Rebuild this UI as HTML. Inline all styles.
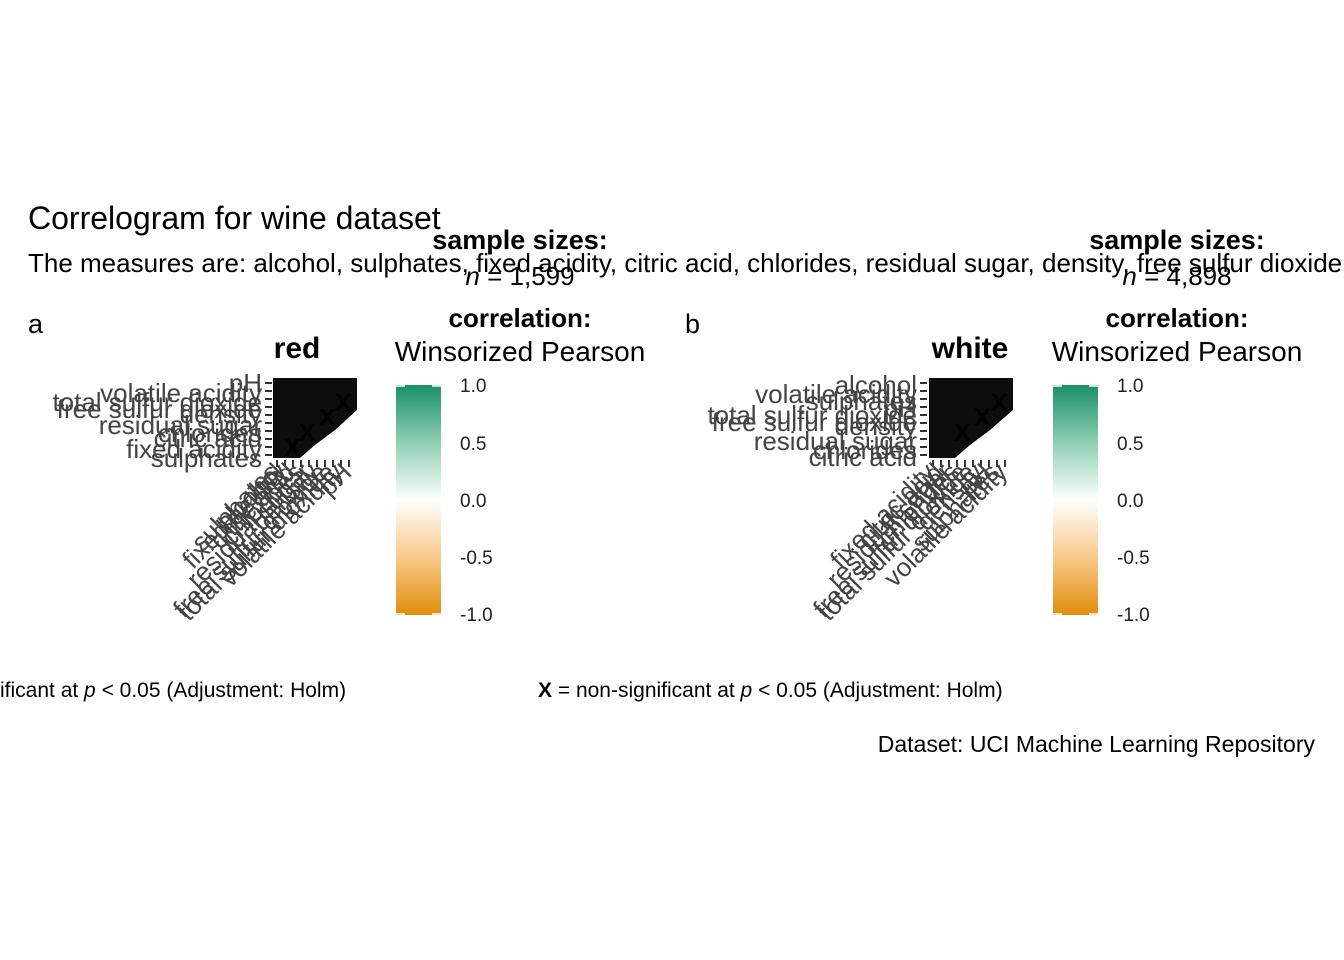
<!DOCTYPE html>
<html><head><meta charset="utf-8"><style>
html,body{margin:0;padding:0;background:#fff;}
svg{display:block;font-family:"Liberation Sans",Arial,sans-serif;}
.yl{font-size:26px;fill:#444;text-anchor:end;}
.xl{font-size:26px;fill:#444;text-anchor:end;}
.lg{font-size:19px;fill:#222;}
</style></head><body>
<svg width="1344" height="960" viewBox="0 0 1344 960">
<defs>
<linearGradient id="cb" x1="0" y1="0" x2="0" y2="1">
<stop offset="0" stop-color="#1b8f68"/>
<stop offset="0.25" stop-color="#8ecfb2"/>
<stop offset="0.5" stop-color="#ffffff"/>
<stop offset="0.75" stop-color="#f8c98a"/>
<stop offset="1" stop-color="#e08e0b"/>
</linearGradient>
</defs>
<text x="28" y="229" font-size="32" fill="#000">Correlogram for wine dataset</text>
<text x="28" y="272" font-size="26" fill="#000">The measures are: alcohol, sulphates, fixed acidity, citric acid, chlorides, residual sugar, density, free sulfur dioxide</text>

<g>
<text x="28" y="333" font-size="27">a</text>
<text x="297" y="358" font-size="30" font-weight="bold" text-anchor="middle">red</text>
<text class="yl" x="262" y="392">pH</text>
<text class="yl" x="262" y="402">volatile acidity</text>
<text class="yl" x="262" y="411">total sulfur dioxide</text>
<text class="yl" x="262" y="418">free sulfur dioxide</text>
<text class="yl" x="262" y="423">density</text>
<text class="yl" x="262" y="434">residual sugar</text>
<text class="yl" x="262" y="442">chlorides</text>
<text class="yl" x="262" y="447">citric acid</text>
<text class="yl" x="262" y="458">fixed acidity</text>
<text class="yl" x="262" y="467">sulphates</text>
<g stroke="#333" stroke-width="2">
<line x1="265" y1="383" x2="272" y2="383"/><line x1="265" y1="391" x2="272" y2="391"/><line x1="265" y1="399" x2="272" y2="399"/><line x1="265" y1="407" x2="272" y2="407"/><line x1="265" y1="415" x2="272" y2="415"/><line x1="265" y1="423" x2="272" y2="423"/><line x1="265" y1="431" x2="272" y2="431"/><line x1="265" y1="439" x2="272" y2="439"/><line x1="265" y1="447" x2="272" y2="447"/><line x1="265" y1="455" x2="272" y2="455"/>
<line x1="277" y1="460" x2="277" y2="467"/><line x1="285" y1="460" x2="285" y2="467"/><line x1="293" y1="460" x2="293" y2="467"/><line x1="301" y1="460" x2="301" y2="467"/><line x1="309" y1="460" x2="309" y2="467"/><line x1="317" y1="460" x2="317" y2="467"/><line x1="325" y1="460" x2="325" y2="467"/><line x1="333" y1="460" x2="333" y2="467"/><line x1="341" y1="460" x2="341" y2="467"/><line x1="349" y1="460" x2="349" y2="467"/>
</g>
<polygon points="273,378 357,378 357,410 335,430 315,445 300,458 273,458" fill="#0d0d0d"/>
<g font-size="22" fill="none" stroke="#000" stroke-width="1.5"><text x="300" y="440">X</text><text x="320" y="425">X</text><text x="336" y="410">X</text><text x="285" y="455">X</text></g>
<g class="xl">
<text transform="translate(281,474) rotate(-45)">sulphates</text>
<text transform="translate(289,474) rotate(-45)">fixed acidity</text>
<text transform="translate(297,474) rotate(-45)">citric acid</text>
<text transform="translate(305,474) rotate(-45)">chlorides</text>
<text transform="translate(313,474) rotate(-45)">residual sugar</text>
<text transform="translate(321,474) rotate(-45)">density</text>
<text transform="translate(329,474) rotate(-45)">free sulfur dioxide</text>
<text transform="translate(337,474) rotate(-45)">total sulfur dioxide</text>
<text transform="translate(345,474) rotate(-45)">volatile acidity</text>
<text transform="translate(353,474) rotate(-45)">pH</text>
<text transform="translate(285,474) rotate(-45)">alcohol</text>
</g>
<text x="520" y="249" font-size="27" font-weight="bold" text-anchor="middle">sample sizes:</text>
<text x="520" y="285" font-size="26" text-anchor="middle"><tspan font-style="italic">n</tspan> = 1,599</text>
<text x="520" y="327" font-size="26" font-weight="bold" text-anchor="middle">correlation:</text>
<text x="520" y="361" font-size="28" text-anchor="middle">Winsorized Pearson</text>
<rect x="396" y="385" width="45" height="230" fill="url(#cb)"/>
<g stroke="#fff" stroke-width="1.5"><line x1="396" y1="386" x2="405" y2="386"/><line x1="432" y1="386" x2="441" y2="386"/><line x1="396" y1="614" x2="405" y2="614"/><line x1="432" y1="614" x2="441" y2="614"/></g>
<text class="lg" x="460" y="392">1.0</text>
<text class="lg" x="460" y="450">0.5</text>
<text class="lg" x="460" y="507">0.0</text>
<text class="lg" x="460" y="564">-0.5</text>
<text class="lg" x="460" y="621">-1.0</text>
<text x="0" y="697" font-size="21">ificant at <tspan font-style="italic">p</tspan> &lt; 0.05 (Adjustment: Holm)</text>
</g>

<g transform="translate(657,0)">
<text x="28" y="333" font-size="27">b</text>
<text x="313" y="358" font-size="30" font-weight="bold" text-anchor="middle">white</text>
</g>
<g>
<text class="yl" x="917" y="394">alcohol</text>
<text class="yl" x="917" y="403">volatile acidity</text>
<text class="yl" x="917" y="410">sulphates</text>
<text class="yl" x="917" y="417">pH</text>
<text class="yl" x="917" y="424">total sulfur dioxide</text>
<text class="yl" x="917" y="431">free sulfur dioxide</text>
<text class="yl" x="917" y="435">density</text>
<text class="yl" x="917" y="450">residual sugar</text>
<text class="yl" x="917" y="459">chlorides</text>
<text class="yl" x="917" y="466">citric acid</text>
<g stroke="#333" stroke-width="2">
<line x1="920" y1="383" x2="927" y2="383"/><line x1="920" y1="391" x2="927" y2="391"/><line x1="920" y1="399" x2="927" y2="399"/><line x1="920" y1="407" x2="927" y2="407"/><line x1="920" y1="415" x2="927" y2="415"/><line x1="920" y1="423" x2="927" y2="423"/><line x1="920" y1="431" x2="927" y2="431"/><line x1="920" y1="439" x2="927" y2="439"/><line x1="920" y1="447" x2="927" y2="447"/><line x1="920" y1="455" x2="927" y2="455"/>
<line x1="933" y1="460" x2="933" y2="467"/><line x1="941" y1="460" x2="941" y2="467"/><line x1="949" y1="460" x2="949" y2="467"/><line x1="957" y1="460" x2="957" y2="467"/><line x1="965" y1="460" x2="965" y2="467"/><line x1="973" y1="460" x2="973" y2="467"/><line x1="981" y1="460" x2="981" y2="467"/><line x1="989" y1="460" x2="989" y2="467"/><line x1="997" y1="460" x2="997" y2="467"/><line x1="1005" y1="460" x2="1005" y2="467"/>
</g>
<polygon points="929,378 1013,378 1013,410 990,430 970,445 955,458 929,458" fill="#0d0d0d"/>
<g font-size="22" fill="none" stroke="#000" stroke-width="1.5"><text x="955" y="440">X</text><text x="975" y="425">X</text><text x="992" y="410">X</text></g>
<g class="xl">
<text transform="translate(937,474) rotate(-45)">fixed acidity</text>
<text transform="translate(945,474) rotate(-45)">citric acid</text>
<text transform="translate(953,474) rotate(-45)">residual sugar</text>
<text transform="translate(961,474) rotate(-45)">chlorides</text>
<text transform="translate(969,474) rotate(-45)">free sulfur dioxide</text>
<text transform="translate(977,474) rotate(-45)">total sulfur dioxide</text>
<text transform="translate(985,474) rotate(-45)">density</text>
<text transform="translate(993,474) rotate(-45)">pH</text>
<text transform="translate(1001,474) rotate(-45)">sulphates</text>
<text transform="translate(1009,474) rotate(-45)">volatile acidity</text>
</g>
<text x="1177" y="249" font-size="27" font-weight="bold" text-anchor="middle">sample sizes:</text>
<text x="1177" y="285" font-size="26" text-anchor="middle"><tspan font-style="italic">n</tspan> = 4,898</text>
<text x="1177" y="327" font-size="26" font-weight="bold" text-anchor="middle">correlation:</text>
<text x="1177" y="361" font-size="28" text-anchor="middle">Winsorized Pearson</text>
<rect x="1053" y="385" width="45" height="230" fill="url(#cb)"/>
<g stroke="#fff" stroke-width="1.5"><line x1="1053" y1="386" x2="1062" y2="386"/><line x1="1089" y1="386" x2="1098" y2="386"/><line x1="1053" y1="614" x2="1062" y2="614"/><line x1="1089" y1="614" x2="1098" y2="614"/></g>
<text class="lg" x="1117" y="392">1.0</text>
<text class="lg" x="1117" y="450">0.5</text>
<text class="lg" x="1117" y="507">0.0</text>
<text class="lg" x="1117" y="564">-0.5</text>
<text class="lg" x="1117" y="621">-1.0</text>
<text x="538" y="697" font-size="21"><tspan font-weight="bold">X</tspan> = non-significant at <tspan font-style="italic">p</tspan> &lt; 0.05 (Adjustment: Holm)</text>
</g>
<text x="1315" y="752" font-size="23" text-anchor="end">Dataset: UCI Machine Learning Repository</text>
</svg>
</body></html>
